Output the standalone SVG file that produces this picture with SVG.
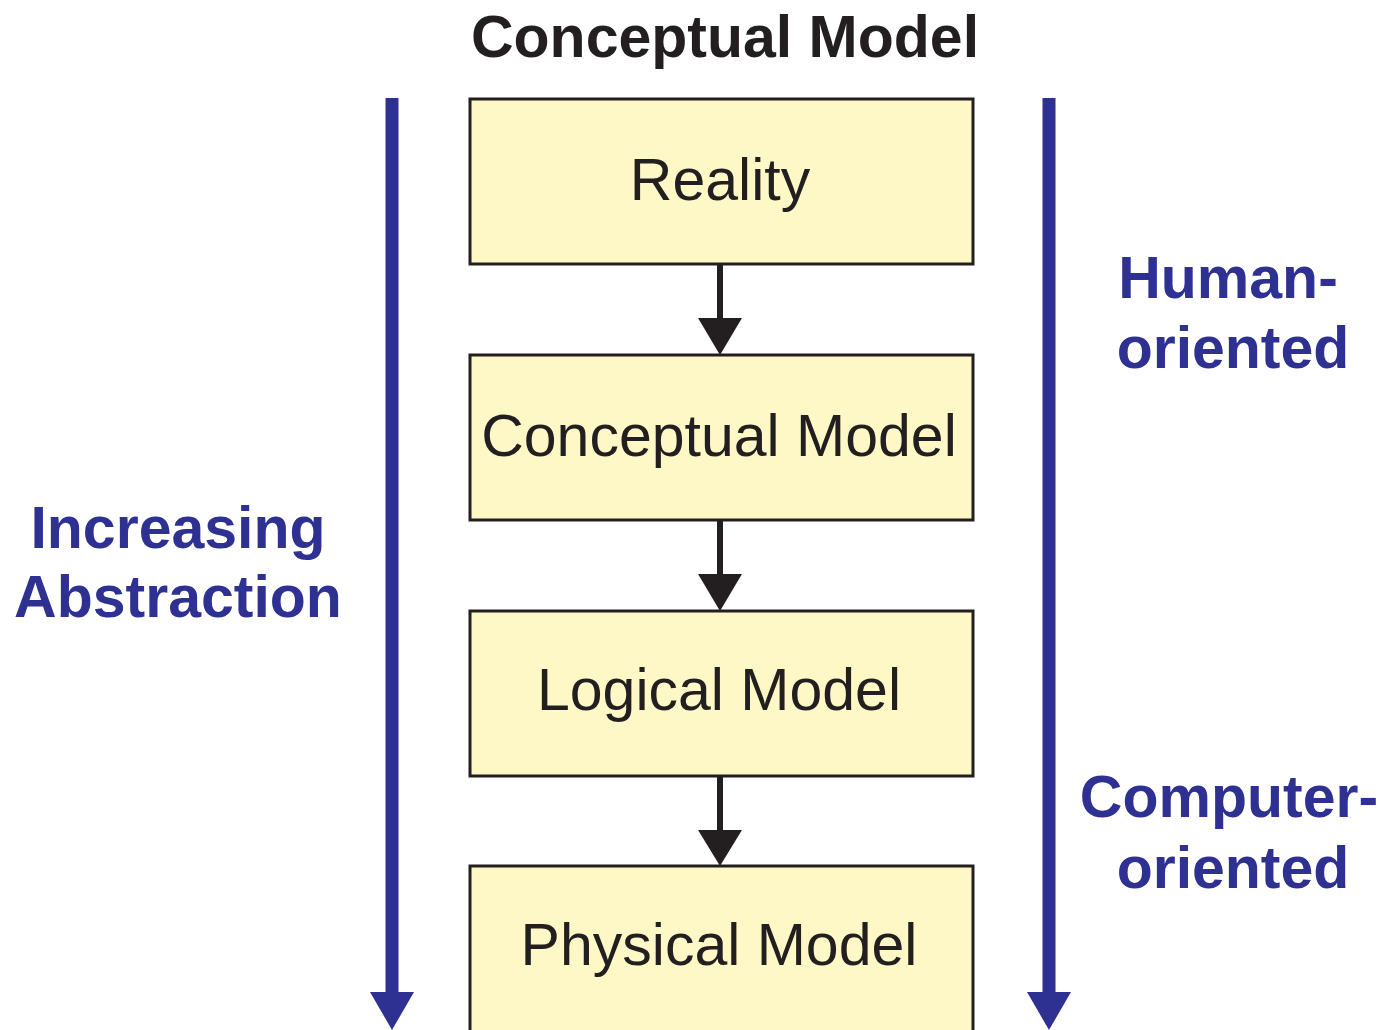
<svg xmlns="http://www.w3.org/2000/svg" width="1383" height="1030" viewBox="0 0 1383 1030">
<style>
.box{fill:#fdf8c6;stroke:#231f20;stroke-width:3}
.lbl{font-family:"Liberation Sans",Arial,sans-serif;font-size:59px;fill:#231f20;text-anchor:middle}
.title{font-family:"Liberation Sans",Arial,sans-serif;font-size:59px;font-weight:bold;fill:#231f20;text-anchor:middle}
.side{font-family:"Liberation Sans",Arial,sans-serif;font-size:59px;font-weight:bold;fill:#2e3192;text-anchor:middle}
.conn{stroke:#231f20;stroke-width:6;fill:none}
.head{fill:#231f20}
.blue{stroke:#2e3192;stroke-width:13;fill:none}
.bhead{fill:#2e3192}
</style>
<rect width="1383" height="1030" fill="#ffffff"/>
<text id="title" class="title" x="725" y="57">Conceptual Model</text>

<g id="n-reality"><rect class="box" x="470" y="99" width="503" height="165"/><text class="lbl" x="720" y="200">Reality</text></g>
<g id="n-conceptual"><rect class="box" x="470" y="355" width="503" height="165"/><text class="lbl" x="719" y="456">Conceptual Model</text></g>
<g id="n-logical"><rect class="box" x="470" y="611" width="503" height="165"/><text class="lbl" x="719" y="710">Logical Model</text></g>
<g id="n-physical"><rect class="box" x="470" y="866" width="503" height="175"/><text class="lbl" x="719" y="965">Physical Model</text></g>

<g id="connectors">
<path d="M720,264 V319" class="conn"/><path class="head" d="M698,318 L742,318 L720,355 Z"/>
<path d="M720,520 V575" class="conn"/><path class="head" d="M698,574 L742,574 L720,611 Z"/>
<path d="M720,776 V831" class="conn"/><path class="head" d="M698,830 L742,830 L720,866 Z"/>
</g>

<g id="axis-left">
<path d="M392,98 V994" class="blue"/>
<path class="bhead" d="M370,992 L414,992 L392,1030 Z"/>
<text class="side" x="178" y="548">Increasing</text>
<text class="side" x="178" y="617">Abstraction</text>
</g>
<g id="axis-right">
<path d="M1049,98 V994" class="blue"/>
<path class="bhead" d="M1027,992 L1071,992 L1049,1030 Z"/>
<text class="side" x="1228" y="298">Human-</text>
<text class="side" x="1233" y="368">oriented</text>
<text class="side" x="1229" y="817">Computer-</text>
<text class="side" x="1233" y="888">oriented</text>
</g>
</svg>
